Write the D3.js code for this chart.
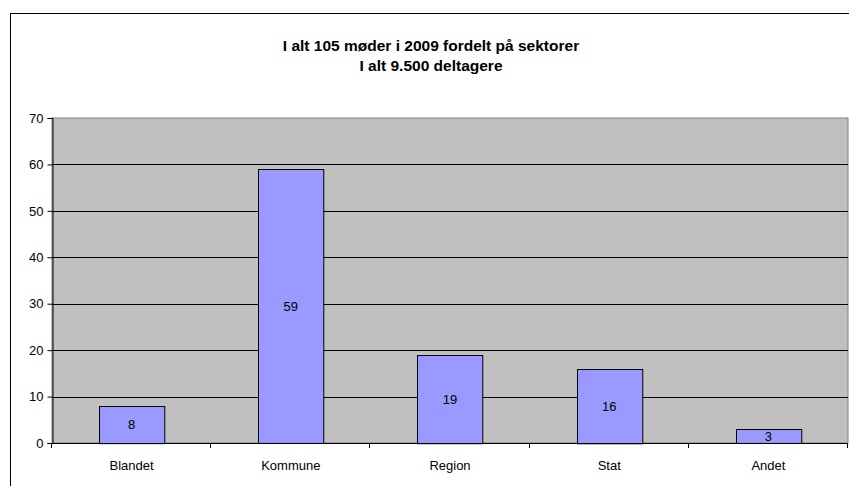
<!DOCTYPE html>
<html>
<head>
<meta charset="utf-8">
<script src="https://cdn.jsdelivr.net/npm/d3@7"></script>
<style>
  body { margin: 0; background: #fff; }
  svg { display: block; font-family: "Liberation Sans", Arial, sans-serif; }
</style>
</head>
<body>
<script>
const categories = ['Blandet', 'Kommune', 'Region', 'Stat', 'Andet']
const values = [8, 59, 19, 16, 3]
const yTicks = [0, 10, 20, 30, 40, 50, 60, 70]
const titleLines = ['I alt 105 møder i 2009 fordelt på sektorer', 'I alt 9.500 deltagere']

let width = 849
let height = 486
let plot = { left: 52, top: 118, right: 848, bottom: 443 }

let svg = d3.select('body').append('svg')
    .attr('width', width)
    .attr('height', height)

// chart frame (runs off right and bottom)
svg.append('rect')
    .attr('x', 10.5).attr('y', 13.5)
    .attr('width', 860).attr('height', 500)
    .attr('fill', '#fff')
    .attr('stroke', '#000')
    .attr('stroke-width', 1)

// title
svg.selectAll('.title')
    .data(titleLines)
    .join('text')
    .attr('class', 'title')
    .attr('x', 431)
    .attr('y', (d, i) => 51 + i * 20)
    .attr('text-anchor', 'middle')
    .attr('font-size', 15.5)
    .attr('font-weight', 'bold')
    .text(d => d)

let x = d3.scaleBand()
    .domain(categories)
    .range([plot.left, plot.right])
    .paddingInner(0.59)
    .paddingOuter(0.295)

let xOuter = d3.scaleBand()
    .domain(categories)
    .range([plot.left, plot.right])

let y = d3.scaleLinear()
    .domain([0, 70])
    .range([plot.bottom, plot.top])

// plot area
svg.append('rect')
    .attr('x', plot.left).attr('y', plot.top)
    .attr('width', plot.right - plot.left)
    .attr('height', plot.bottom - plot.top)
    .attr('fill', '#c0c0c0')
    .attr('stroke', '#808080')
    .attr('stroke-width', 1)

// gridlines
svg.selectAll('.grid')
    .data(yTicks.slice(1, -1))
    .join('line')
    .attr('class', 'grid')
    .attr('x1', plot.left).attr('x2', plot.right)
    .attr('y1', d => Math.round(y(d)) + 0.5)
    .attr('y2', d => Math.round(y(d)) + 0.5)
    .attr('stroke', '#000')

// bars
svg.selectAll('.bar')
    .data(values)
    .join('rect')
    .attr('class', 'bar')
    .attr('x', (d, i) => Math.round(x(categories[i])) + 0.5)
    .attr('y', d => Math.round(y(d)) + 0.5)
    .attr('width', x.bandwidth())
    .attr('height', d => y(0) - y(d))
    .attr('fill', '#9999ff')
    .attr('stroke', '#000')

// bar labels
svg.selectAll('.blabel')
    .data(values)
    .join('text')
    .attr('class', 'blabel')
    .attr('x', (d, i) => x(categories[i]) + x.bandwidth() / 2)
    .attr('y', d => (y(d) + y(0)) / 2 + 5)
    .attr('text-anchor', 'middle')
    .attr('font-size', 13)
    .text(d => d)

// y axis
let yAxis = d3.axisLeft(y)
    .tickValues(yTicks)
    .tickSize(5)
    .tickPadding(4)
svg.append('g')
    .attr('transform', `translate(${plot.left + 0.5},0)`)
    .call(yAxis)
    .call(g => g.selectAll('text').attr('font-size', 13).attr('font-family', null).attr('fill', '#000'))
    .call(g => g.selectAll('line, path').attr('stroke', '#000'))

// x axis line and ticks at category boundaries
svg.append('line')
    .attr('x1', plot.left).attr('x2', plot.right)
    .attr('y1', plot.bottom + 0.5).attr('y2', plot.bottom + 0.5)
    .attr('stroke', '#000')

let bounds = categories.map(c => xOuter(c)).concat([plot.right])
svg.selectAll('.xtick')
    .data(bounds)
    .join('line')
    .attr('class', 'xtick')
    .attr('x1', d => Math.round(d) - 0.5).attr('x2', d => Math.round(d) - 0.5)
    .attr('y1', plot.bottom).attr('y2', plot.bottom + 5)
    .attr('stroke', '#000')

svg.selectAll('.xlabel')
    .data(categories)
    .join('text')
    .attr('class', 'xlabel')
    .attr('x', d => xOuter(d) + xOuter.bandwidth() / 2)
    .attr('y', 470)
    .attr('text-anchor', 'middle')
    .attr('font-size', 13)
    .text(d => d)
</script>
</body>
</html>
